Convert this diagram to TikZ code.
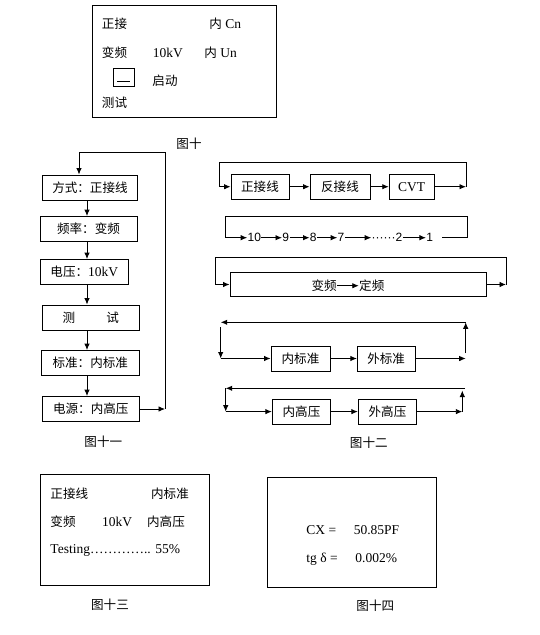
\documentclass[tikz,border=0pt]{standalone}
\usepackage{fontspec}
\setmainfont{Liberation Serif}
\newfontfamily\cjk[Scale=0.93]{Noto Sans CJK SC}
\newfontfamily\arialfont{Liberation Sans}
\newcommand\zh[1]{{\cjk #1}}
\usetikzlibrary{arrows.meta}
\begin{document}
\begin{tikzpicture}[x=1pt,y=-1pt,line width=0.9pt,font=\fontsize{13.5}{16}\selectfont,every node/.style={inner sep=0pt},box/.style={draw,minimum height=25},lbl/.style={anchor=base west},num/.style={font=\arialfont\fontsize{12}{14}\selectfont},arr/.style={-{Latex[length=6.5pt,width=5.5pt]}}]
\useasboundingbox (0,0) rectangle (540,635);

% fig 10
\node[draw,minimum width=184,minimum height=112] (scr1) at (184,61) {};
\node[lbl] (p1) at (101.5,28.6) {\zh{正接}};
\node[lbl] (p2) at (209,28.6) {\zh{内} Cn};
\node[lbl] (p3) at (101.5,57.6) {\zh{变频}};
\node[lbl] (p4) at (152.5,57.6) {10kV};
\node[lbl] (p5) at (204,57.6) {\zh{内} Un};
\node[draw,minimum width=21,minimum height=18] (btn) at (123.5,77) {};
\draw[line width=1.4pt] (117,81.5) -- (130,81.5);
\node[lbl] (p6) at (152,85.6) {\zh{启动}};
\node[lbl] (p7) at (101.5,107.6) {\zh{测试}};
\node (cap10) at (189,144) {\zh{图十}};

% fig 11
\coordinate (ax) at (87,0);
\node[box,minimum width=95.5] (m1) at (90,187.5) {\zh{方式：正接线}};
\node[box,minimum width=97] (m2) at (88.5,229) {\zh{频率：变频}};
\node[box,minimum width=88.7] (m3) at (84.3,272) {\zh{电压：}10kV};
\node[box,minimum width=97] (m4) at (90.8,317.5) {\zh{测\hspace{31pt}试}};
\node[box,minimum width=98] (m5) at (90.3,363) {\zh{标准：内标准}};
\node[box,minimum width=97] (m6) at (90.8,409) {\zh{电源：内高压}};
\foreach \a/\b in {m1/m2,m2/m3,m3/m4,m4/m5,m5/m6}
  \draw[arr] (\a.south -| ax) -- (\b.north -| ax);
\coordinate (lp1) at (79,152.7);
\coordinate (lp2) at (165,152.7);
\draw[arr] (m6) -- (m6 -| lp2);
\draw[arr] (m6 -| lp2) -- (lp2) -- (lp1) -- (lp1 |- m1.north);
\node (cap11) at (103.3,441.7) {\zh{图十一}};

% fig 12
\node[box,minimum width=58] (w1) at (260,186.7) {\zh{正接线}};
\node[box,minimum width=60] (w2) at (340,186.7) {\zh{反接线}};
\node[box,minimum width=45] (w3) at (411.7,186.7) {CVT};
\draw[arr] (w1) -- (w2);
\draw[arr] (w2) -- (w3);
\coordinate (q1) at (219,162.7);
\coordinate (q2) at (466,162.7);
\draw[arr] (w3) -- (w3 -| q2);
\draw (w3 -| q2) -- (q2) -- (q1) -- (q1 |- w1);
\draw[arr] (q1 |- w1) -- (w1);

\node[num] (k10) at (254.3,237.7) {10};
\node[num] (k9) at (285.8,237.7) {9};
\node[num] (k8) at (313.3,237.7) {8};
\node[num] (k7) at (341,237.7) {7};
\node[num] (kd) at (387,237.7) {······2};
\node[num] (k1) at (429.7,237.7) {1};
\foreach \a/\b in {k10/k9,k9/k8,k8/k7,k7/kd,kd/k1}
  \draw[arr] (\a) -- (\b);
\coordinate (q3) at (225,216.7);
\coordinate (q4) at (467.7,216.7);
\draw ([xshift=9pt]k1.east) -- (k1 -| q4) -- (q4) -- (q3) -- (q3 |- k10);
\draw[arr] (q3 |- k10) -- (k10);

\node[box,minimum width=256,minimum height=24.4] (fq) at (358,284.5) {};
\node (fa) at (324.2,285.7) {\zh{变频}};
\node (fb) at (371.8,285.7) {\zh{定频}};
\draw[arr] (fa) -- (fb);
\coordinate (q5) at (215,257.3);
\coordinate (q6) at (506,257.3);
\draw[arr] (fq) -- (fq -| q6);
\draw (fq -| q6) -- (q6) -- (q5) -- (q5 |- fq);
\draw[arr] (q5 |- fq) -- (fq);

\node[box,minimum width=59] (s1) at (300.5,358.5) {\zh{内标准}};
\node[box,minimum width=57.7] (s2) at (386.2,358.5) {\zh{外标准}};
\draw[arr] (s1) -- (s2);
\coordinate (q7) at (465.7,322.3);
\coordinate (q8) at (220.7,322.3);
\coordinate (q9) at (465.7,353);
\coordinate (q10) at (220.7,327);
\draw[arr] (s2) -- (s2 -| q7);
\draw[arr] (q9) -- (q7);
\draw[arr] (q7) -- (q8);
\draw[arr] (q10) -- (q10 |- s1);
\draw[arr] (q10 |- s1) -- (s1);

\node[box,minimum width=58.4] (h1) at (301.5,411.6) {\zh{内高压}};
\node[box,minimum width=58.4] (h2) at (387.5,411.6) {\zh{外高压}};
\draw[arr] (h1) -- (h2);
\coordinate (q11) at (465,388.3);
\coordinate (q12) at (225.7,388.3);
\coordinate (q13) at (462.3,390.5);
\draw[arr] (h2) -- (h2 -| q13);
\draw[arr] (h2 -| q13) -- (q13);
\draw[arr] (q11) -- (q12);
\draw[arr] (q12) -- (q12 |- h1);
\draw[arr] (q12 |- h1) -- (h1);
\node (cap12) at (368.8,442.7) {\zh{图十二}};

% fig 13
\node[draw,minimum width=168.3,minimum height=111.4] (scr2) at (124.9,530) {};
\node[lbl] (r1) at (50,498.9) {\zh{正接线}};
\node[lbl] (r2) at (150.7,498.9) {\zh{内标准}};
\node[lbl] (r3) at (50,526.9) {\zh{变频}};
\node[lbl] (r4) at (101.7,526.9) {10kV};
\node[lbl] (r5) at (146.7,526.9) {\zh{内高压}};
\node[lbl] (r6) at (50,553.9) {Testing………….. 55\%};
\node (cap13) at (110,604.3) {\zh{图十三}};

% fig 14
\node[draw,minimum width=169,minimum height=110] (scr3) at (351.8,532.3) {};
\node[lbl] (cx) at (306,534.4) {CX =};
\node[lbl] (cxv) at (353.3,534.4) {50.85PF};
\node[lbl] (tg) at (306,562) {tg δ =};
\node[lbl] (tgv) at (355,562) {0.002\%};
\node (cap14) at (375.3,605.7) {\zh{图十四}};
\end{tikzpicture}
\end{document}
